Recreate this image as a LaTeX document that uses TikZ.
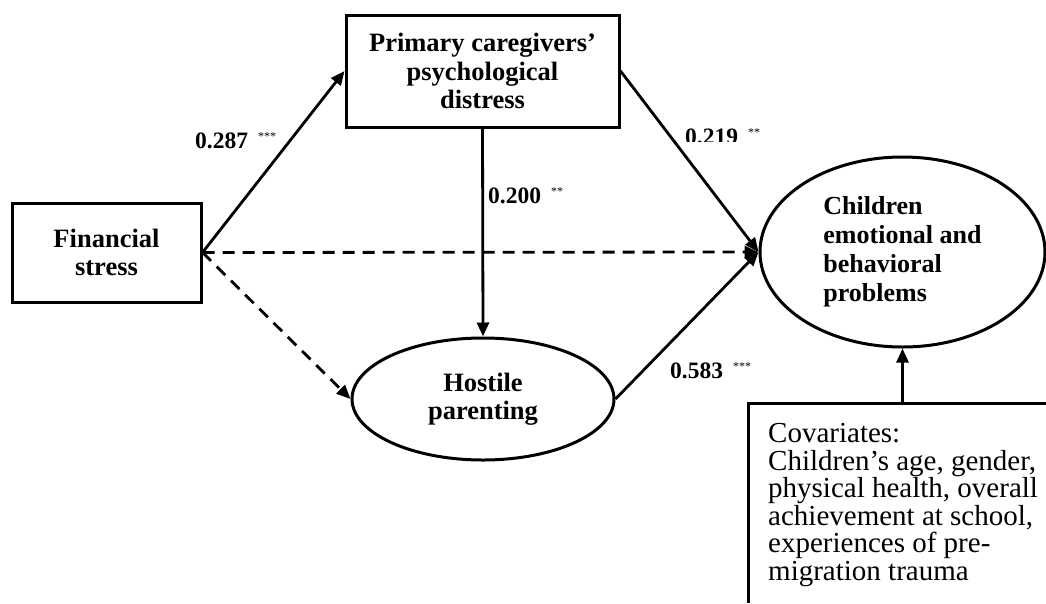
\documentclass[tikz,border=0pt]{standalone}
\usepackage{fontspec}
\setmainfont{Liberation Serif}
\usetikzlibrary{arrows.meta,shapes.geometric}
\newcommand\sigstars[1]{{\fontsize{12}{13}\mdseries\selectfont\raisebox{8pt}{#1}}}
\begin{document}
\begin{tikzpicture}[x=1pt,y=-1pt,
  boxnode/.style={draw,line width=3pt,rectangle,align=center,inner sep=0pt},
  ovalnode/.style={draw,line width=3pt,ellipse,inner sep=0pt},
  conn/.style={line width=2.8pt,-{Triangle[length=14pt,width=12pt]}},
  dashconn/.style={conn,dash pattern=on 12pt off 8pt},
  nodefont/.style={font=\fontsize{26.5}{28.5}\selectfont\bfseries},
  coef/.style={anchor=base west,inner sep=0pt,font=\fontsize{23.5}{26}\selectfont\bfseries}]
\useasboundingbox (0,0) rectangle (1046,603);

\node[boxnode,nodefont,minimum width=189pt,minimum height=99pt] (fin) at (106.5,252.5) {Financial\\stress};
\node[boxnode,nodefont,minimum width=273pt,minimum height=112pt] (prim) at (482.5,71) {Primary caregivers'\\psychological\\distress};
\node[ovalnode,nodefont,align=center,minimum width=262pt,minimum height=122pt] (host) at (483,399) {Hostile\\parenting};
\node[ovalnode,align=left,font=\bfseries\fontsize{26}{29}\selectfont,minimum width=285pt,minimum height=190pt] (child) at (902.5,252) {Children\\emotional and\\behavioral\\problems};

\node[rectangle,anchor=north west,inner sep=0pt,minimum width=298pt,minimum height=200pt] (cov) at (748,403) {};
\node[anchor=north west,align=left,inner sep=0pt,font=\fontsize{29}{27.6}\selectfont] (covtxt) at (768,423) {Covariates:\\Children’s age, gender,\\physical health, overall\\achievement at school,\\experiences of pre-\\migration trauma};
\draw[line width=3pt] (cov.north east) -- (cov.north west) -- (cov.south west);

\draw[conn] (fin.east) -- (prim.west);
\draw[dashconn] (fin.east) -- (child.west);
\draw[dashconn] (fin.east) -- (host.west);
\draw[conn] (prim.south) -- (host.north);
\draw[conn] (prim.east) -- (child.west);
\draw[conn] (host.east) -- (child.west);
\draw[conn] (cov.north -| child.south) -- (child.south);

\node[coef] (c1) at (195,148) {0.287\hspace{10pt}\sigstars{***}};
\node[coef] (c2) at (488,203) {0.200\hspace{10pt}\sigstars{**}};
\begin{scope}
\clip (675,110) rectangle (790,141.5);
\node[coef] (c3) at (685,144) {0.219\hspace{10pt}\sigstars{**}};
\end{scope}
\node[coef] (c4) at (670,378) {0.583\hspace{10pt}\sigstars{***}};
\end{tikzpicture}
\end{document}
